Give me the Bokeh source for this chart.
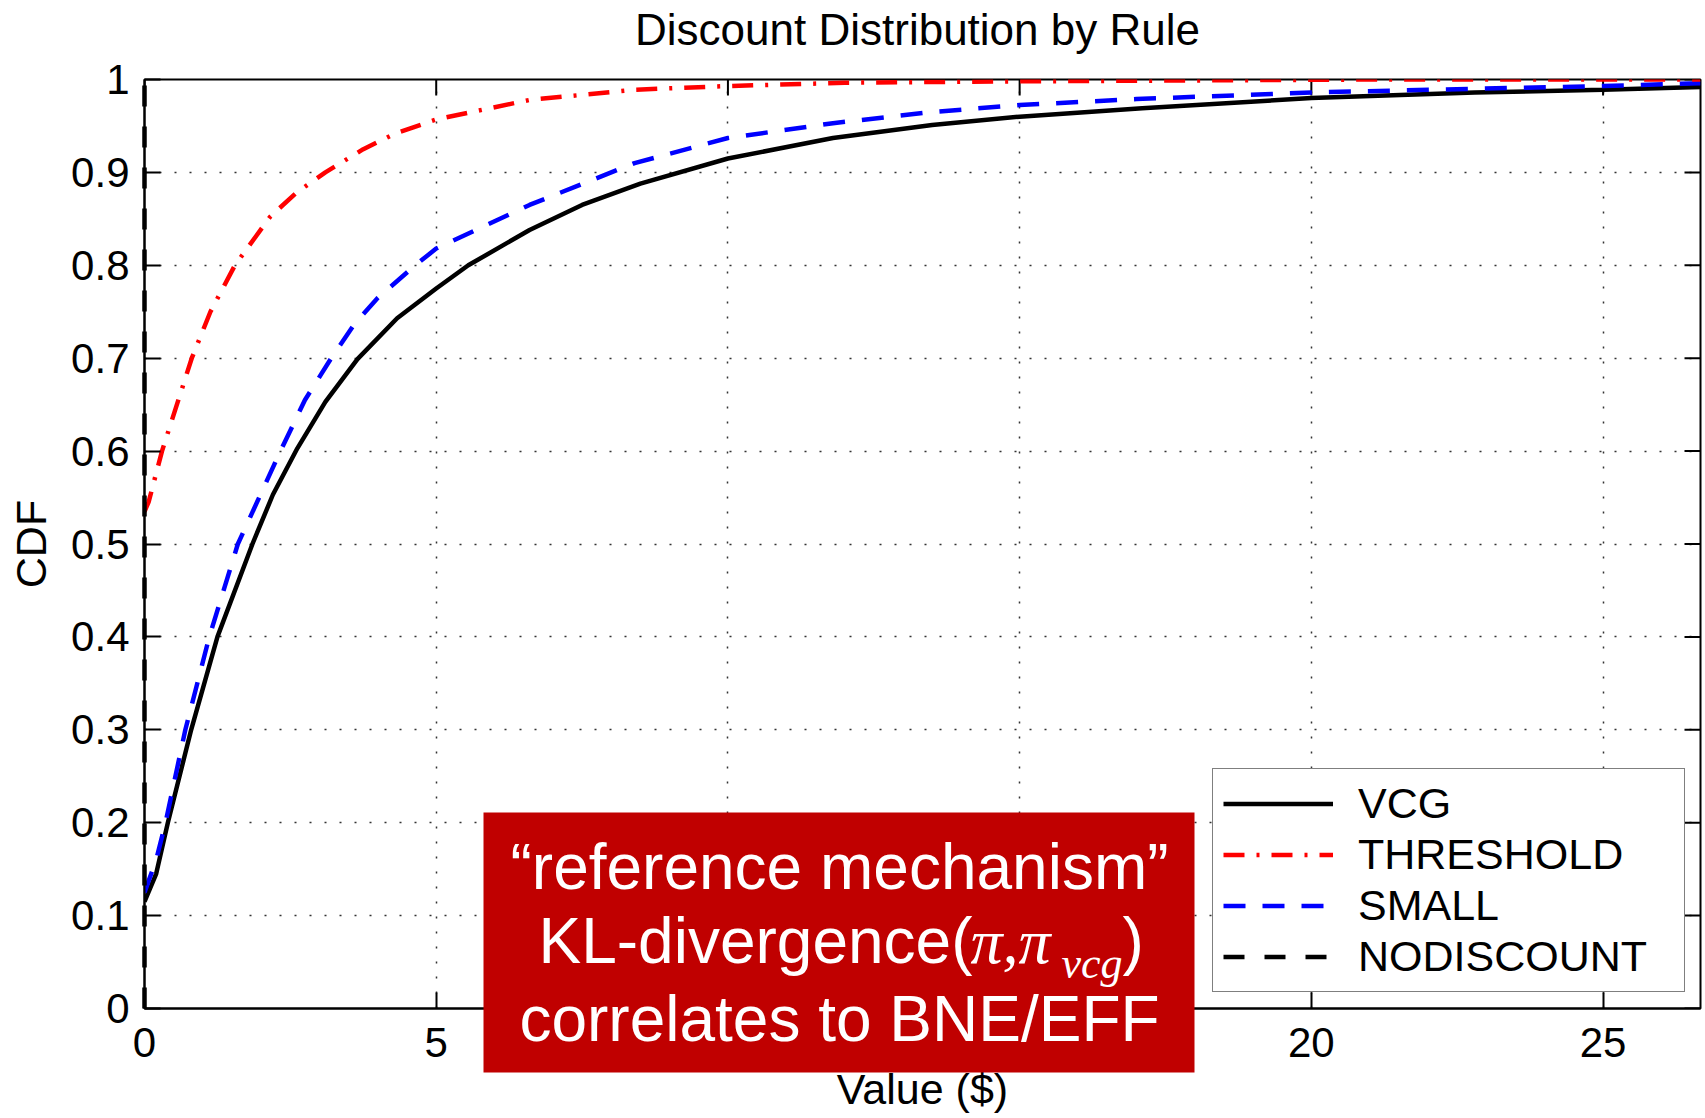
from bokeh.plotting import figure
from bokeh.models import Range1d, FixedTicker, Legend, LegendItem
from bokeh.core.properties import value
from bokeh.embed import file_html
from bokeh.resources import INLINE

# ---------------- data ----------------
vcg_x = [0.0, 0.2, 0.4, 0.8, 1.25, 1.85, 2.2, 2.62, 3.1, 3.65, 4.33, 5.0, 5.55,
         6.6, 7.5, 8.5, 10.0, 11.8, 13.5, 15.0, 17.1, 20.0, 22.8, 25.0, 26.67]
vcg_y = [0.115, 0.145, 0.20, 0.30, 0.40, 0.50, 0.553, 0.603, 0.653, 0.699, 0.743,
         0.775, 0.80, 0.838, 0.865, 0.888, 0.915, 0.937, 0.951, 0.960, 0.969,
         0.980, 0.986, 0.989, 0.992]

threshold_x = [0.0, 0.07, 0.30, 0.81, 1.13, 1.55, 2.15, 2.6, 3.1, 3.75, 4.3, 5.0,
               6.6, 8.4, 10.0, 12.0, 15.0, 18.0, 21.0, 26.67]
threshold_y = [0.535, 0.545, 0.60, 0.70, 0.75, 0.80, 0.852, 0.878, 0.90, 0.925,
               0.942, 0.957, 0.978, 0.989, 0.993, 0.9965, 0.998, 0.999, 1.0, 1.0]

small_x = [0.0, 0.2, 0.36, 0.70, 1.11, 1.6, 2.33, 2.75, 3.2, 3.6, 4.0, 4.64, 5.0,
           6.6, 8.4, 10.0, 11.8, 13.5, 15.0, 17.0, 20.0, 22.8, 25.0, 26.67]
small_y = [0.125, 0.16, 0.20, 0.30, 0.40, 0.50, 0.60, 0.655, 0.70, 0.737, 0.765,
           0.80, 0.818, 0.865, 0.910, 0.937, 0.953, 0.965, 0.9725, 0.979, 0.986,
           0.990, 0.993, 0.996]

nodiscount_x = [0.0, 0.0]
nodiscount_y = [0.0, 1.0]

series_names = ["VCG", "THRESHOLD", "SMALL", "NODISCOUNT"]
x_ticks = [0, 5, 10, 15, 20, 25]
y_ticks = [0, 0.1, 0.2, 0.3, 0.4, 0.5, 0.6, 0.7, 0.8, 0.9, 1]
y_tick_labels = ["0", "0.1", "0.2", "0.3", "0.4", "0.5", "0.6", "0.7", "0.8", "0.9", "1"]
x_max = 26.67

title_text = "Discount Distribution by Rule"
callout_lines = ["\u201creference mechanism\u201d", "KL-divergence(", "\u03c0,\u03c0",
                 "vcg", ")", "correlates to BNE/EFF"]

FONT = "Liberation Sans"
FS = "42px"

# ---------------- figure ----------------
W, H = 1705, 1118
FL, FR, FT, FB = 144, 1700, 79, 1008   # frame edges in pixels

p = figure(width=W, height=H, output_backend="svg", toolbar_location=None,
           x_range=Range1d(0, x_max), y_range=Range1d(0, 1),
           min_border_left=FL, min_border_right=W - FR,
           min_border_top=FT, min_border_bottom=H - FB)
p.background_fill_color = "white"
p.border_fill_color = "white"
p.outline_line_color = "black"
p.outline_line_width = 2
p.title.visible = False

xa = p.xaxis[0]
ya = p.yaxis[0]
xa.ticker = FixedTicker(ticks=x_ticks)
ya.ticker = FixedTicker(ticks=y_ticks)
ya.major_label_overrides = {t: l for t, l in zip(y_ticks, y_tick_labels)}
xa.axis_label = "Value ($)"
ya.axis_label = "CDF"
for ax in (xa, ya):
    ax.axis_line_color = "black"
    ax.axis_line_width = 2
    ax.major_tick_in = 16
    ax.major_tick_out = 0
    ax.major_tick_line_width = 2
    ax.major_tick_line_color = "black"
    ax.minor_tick_line_color = None
    ax.major_label_text_font = FONT
    ax.major_label_text_font_size = FS
    ax.major_label_text_color = "black"
    ax.axis_label_text_font = FONT
    ax.axis_label_text_font_size = "43px"
    ax.axis_label_text_font_style = "normal"
    ax.axis_label_text_color = "black"
xa.major_label_standoff = 19
xa.axis_label_standoff = 5
ya.major_label_standoff = 15
ya.axis_label_standoff = 13

for g in (p.xgrid[0], p.ygrid[0]):
    g.grid_line_color = "#333333"
    g.grid_line_width = 1.5
    g.grid_line_dash = "2 13"
p.xgrid[0].ticker = FixedTicker(ticks=x_ticks)
p.ygrid[0].ticker = FixedTicker(ticks=y_ticks)

px_per_x = (FR - FL) / x_max
px_per_y = (FB - FT) / 1.0
TICK = 16

# tick marks on the top and right edges of the box (MATLAB style)
p.segment(x0=x_ticks, y0=[1.0] * len(x_ticks), x1=x_ticks,
          y1=[1.0 - TICK / px_per_y] * len(x_ticks), line_color="black", line_width=2)
p.segment(x0=[x_max] * len(y_ticks), y0=y_ticks, x1=[x_max - TICK / px_per_x] * len(y_ticks),
          y1=y_ticks, line_color="black", line_width=2)

LW = 4.5
r_nod = p.line(nodiscount_x, nodiscount_y, line_color="black", line_width=LW,
               line_dash="21 20", level="overlay")
r_vcg = p.line(vcg_x, vcg_y, line_color="black", line_width=LW)
r_small = p.line(small_x, small_y, line_color="#0000FF", line_width=LW,
                 line_dash="22 17")
r_thr = p.line(threshold_x, threshold_y, line_color="#FF0000", line_width=LW,
               line_dash="21 12 3 12")

legend = Legend(items=[LegendItem(label=series_names[0], renderers=[r_vcg]),
                       LegendItem(label=series_names[1], renderers=[r_thr]),
                       LegendItem(label=series_names[2], renderers=[r_small]),
                       LegendItem(label=series_names[3], renderers=[r_nod])],
                location=(1212 - FL, FB - 992))
legend.label_text_font = FONT
legend.label_text_font_size = "43px"
legend.label_text_color = "black"
legend.glyph_width = 110
legend.glyph_height = 49
legend.label_height = 49
legend.label_width = 316
legend.label_standoff = 25
legend.padding = 10
legend.spacing = 2
legend.margin = 0
legend.border_line_color = "black"
legend.border_line_width = 1.5
legend.background_fill_color = "white"
legend.background_fill_alpha = 1
p.add_layout(legend)


# ---------------- pixel positions -> data space (for overlay texts/box) -----------
def dx(X):
    return (X - FL) / px_per_x


def dy(Y):
    return (FB - Y) / px_per_y


def put_text(txt, X, Y, size_px, align="left", font=FONT, style="normal", color="black"):
    # Y is the wanted baseline; compensate the renderer's baseline shift
    Yc = Y - 0.33 * size_px
    p.text(x=[dx(X)], y=[dy(Yc)], text=[txt], text_align=align,
           text_baseline="alphabetic", text_font=value(font),
           text_font_size=value(f"{size_px}px"), text_font_style=style,
           text_color=color, level="overlay")


# title
put_text(title_text, 917, 44, 44, align="center")

# red call-out box
p.quad(left=[dx(483)], right=[dx(1194)], top=[dy(812)], bottom=[dy(1072)],
       fill_color="#C00000", line_color=None, level="overlay")

specs = [  # (text index, X px, baseline Y px, size, align, font, style)
    (0, 839, 888, 64, "center", FONT, "normal"),
    (1, 538, 962, 64, "left", FONT, "normal"),
    (2, 970, 962, 64, "left", "Liberation Serif", "italic"),
    (3, 1061, 978, 44, "left", "Liberation Serif", "italic"),
    (4, 1122, 962, 64, "left", FONT, "normal"),
    (5, 839, 1040, 64, "center", FONT, "normal"),
]
for i, X, Y, sz, al, fnt, st in specs:
    put_text(callout_lines[i], X, Y, sz, align=al, font=fnt, style=st, color="white")

open("out.html", "w").write(file_html(p, INLINE))
